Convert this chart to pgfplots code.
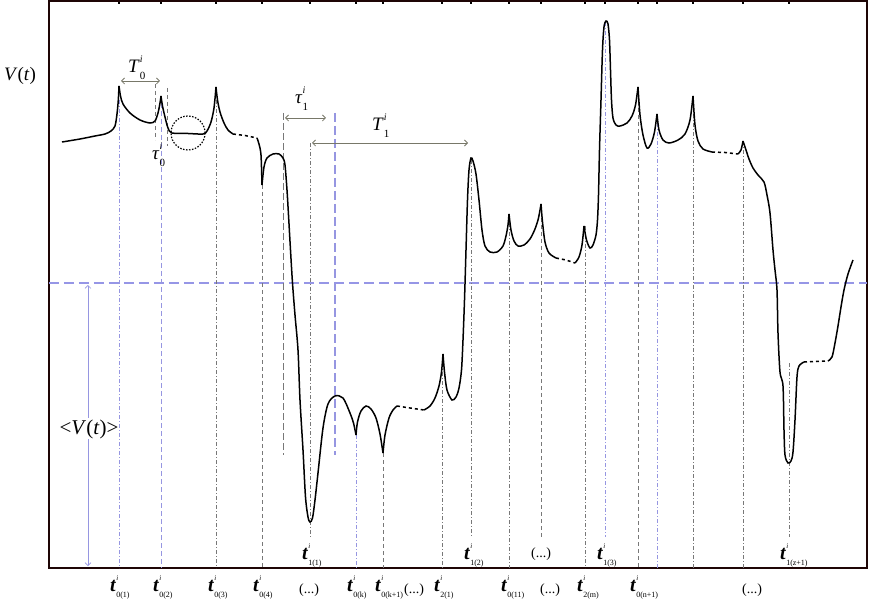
\documentclass[border=0pt]{standalone}
\usepackage{pgfplots}
\pgfplotsset{compat=1.18}
\usepackage{fontspec}
\setmainfont{Liberation Serif}
\usetikzlibrary{arrows.meta}
\definecolor{frame}{RGB}{30,5,5}
\definecolor{arrc}{RGB}{120,120,105}
\definecolor{vgray}{RGB}{120,120,120}
\definecolor{vblue}{RGB}{150,150,225}
\definecolor{hblue}{RGB}{150,150,230}
\tikzset{
  crv/.style={black, line width=1.5pt, smooth, tension=0.5, mark=none},
  dsh/.style={black, line width=1.5pt, dash pattern=on 3pt off 3pt, mark=none},
  vg/.style={vgray, line width=0.6pt, dash pattern=on 4pt off 2pt on 1pt off 2pt},
  vgd/.style={vgray, line width=0.6pt, dash pattern=on 4pt off 3pt},
  vb/.style={vblue, line width=0.7pt, dash pattern=on 4pt off 2pt on 1pt off 2pt},
  vbd/.style={vblue, line width=0.9pt, dash pattern=on 5pt off 3pt},
}
\newcommand{\tl}[2]{\textbf{\textit{t}}$^{\raisebox{0.3ex}{\fontsize{7}{7}\selectfont\textit{#1}}}_{\raisebox{-0.2ex}{\fontsize{8}{8}\selectfont #2}}$}
\newcommand{\sym}[3]{#1$^{\raisebox{0.5ex}{\fontsize{10}{10}\selectfont\textit{#2}}}_{\raisebox{-0.3ex}{\fontsize{11}{11}\selectfont #3}}$}
\begin{document}
\begin{tikzpicture}
\begin{axis}[
  scale only axis, width=818pt, height=567pt,
  xmin=49, xmax=867, ymin=1, ymax=568, y dir=reverse,
  enlargelimits=false, clip=false,
  axis line style={line width=2.2pt, color=frame},
  xtick={119,161,216,262,310,356,383,442,471,509,541,585,605,638,657,693,743,789},
  xticklabels={}, ytick=\empty,
  xtick pos=right,
  tick align=center, major tick length=7pt,
  tick style={line width=1.4pt, black},
]
% horizontal mean line
\draw[hblue, line width=1.1pt, dash pattern=on 10pt off 5pt] (axis cs:49,283) -- (axis cs:867,283);
% vertical guide lines
\draw[vb]  (axis cs:119,100) -- (axis cs:119,568);
\draw[vgd] (axis cs:155,84) -- (axis cs:155,140);
\draw[vbd] (axis cs:161,103) -- (axis cs:161,568);
\draw[vgd] (axis cs:167,88) -- (axis cs:167,146);
\draw[vg]  (axis cs:216,100) -- (axis cs:216,568);
\draw[vgd] (axis cs:262,185) -- (axis cs:262,568);
\draw[vgray, line width=0.7pt, dash pattern=on 7pt off 3pt] (axis cs:283,113) -- (axis cs:283,455);
\draw[vblue, line width=1.3pt, dash pattern=on 9pt off 4pt] (axis cs:335,113) -- (axis cs:335,455);
\draw[vg]  (axis cs:310,143) -- (axis cs:310,537);
\draw[vb]  (axis cs:356,435) -- (axis cs:356,568);
\draw[vgd] (axis cs:383,453) -- (axis cs:383,568);
\draw[vg]  (axis cs:442,354) -- (axis cs:442,568);
\draw[vg]  (axis cs:471,160) -- (axis cs:471,537);
\draw[vg]  (axis cs:509,214) -- (axis cs:509,568);
\draw[vgd] (axis cs:541,204) -- (axis cs:541,537);
\draw[vg]  (axis cs:585,226) -- (axis cs:585,568);
\draw[vb]  (axis cs:605,22) -- (axis cs:605,537);
\draw[vgd] (axis cs:638,87) -- (axis cs:638,568);
\draw[vb]  (axis cs:657,114) -- (axis cs:657,568);
\draw[vg]  (axis cs:693,96) -- (axis cs:693,568);
\draw[vg]  (axis cs:743,141) -- (axis cs:743,568);
\draw[vg]  (axis cs:789,363) -- (axis cs:789,537);
% <V(t)> arrow
\draw[vblue, line width=0.6pt, <->, >={Straight Barb[length=3pt,width=6pt]}] (axis cs:88,285) -- (axis cs:88,566);
% curve
\addplot[crv] coordinates {(62,142)(80,139)(95,136)(105,134)(111,131)(115,126)(117,114)(118.3,100)(119,86)};
\addplot[crv] coordinates {(119,86)(120.5,96)(123,104)(130,113)(140,120)(150,123)(155,121)(158,113)(160,103)(161,96)};
\addplot[crv] coordinates {(161,96)(162.5,106)(165,117)(168,128)(172,133)(188,133.5)(203,134)(207,131)(211,122)(214,108)(216,87)};
\addplot[crv] coordinates {(216,87)(217.5,100)(220,112)(224,123)(228,130)(233,134)};
\addplot[dsh] coordinates {(233,134)(245,135.5)(257,138)};
\addplot[crv] coordinates {(257,138)(259,144)(261,155)(262,185)};
\addplot[crv] coordinates {(262,185)(264,167)(267,158)(273,154)(279,154)(283,158)(285,165)(287,190)(288.5,215)(290.5,250)(292.5,283)(295,315)(298,350)(300,400)(303,450)(305.5,497)(308,517)(310,522)(312.5,518)(315,500)(318,473)(323,428)(328,404)(335,396)(343,398)(350,413)(353.5,423)(356,435)};
\addplot[crv] coordinates {(356,435)(357.5,422)(361,411)(366,406)(371,409)(376,418)(380,434)(383,453)};
\addplot[crv] coordinates {(383,453)(385,435)(389,418)(393,410)(397,406)};
\addplot[dsh] coordinates {(397,406)(410,408)(424,410)};
\addplot[crv] coordinates {(424,410)(430,406)(435,398)(439,386)(441.5,372)(443,354)};
\addplot[crv] coordinates {(443,354)(444.5,372)(447,390)(452,400)(456,397)(459,388)(461.5,370)(463,340)(464.5,300)(466,250)(467.5,200)(469,170)(471,158)(473,161)(476,174)(479,200)(482,230)(485,246)(490,252)(497,252)(503,246)(506,236)(508,225)(509,214)};
\addplot[crv] coordinates {(509,214)(511,230)(514,241)(518,246)(524,245)(530,239)(535,229)(538.5,218)(541,204)};
\addplot[crv] coordinates {(541,204)(542.5,222)(545,242)(549,253)(556,258)};
\addplot[dsh] coordinates {(556,258)(566,260)(575,263)};
\addplot[crv] coordinates {(575,263)(579,257)(582,245)(584,226)};
\addplot[crv] coordinates {(584,226)(586.5,240)(590,248)(593,245)(596,235)(597.5,220)(598.5,195)(599.5,150)(601,100)(602.5,50)(604,27)(606,21)(608,24)(609.5,40)(610.5,70)(611.5,100)(613,118)(616,125)(620,126)(627,123)(632,116)(635.5,105)(638,87)};
\addplot[crv] coordinates {(638,87)(640,115)(643,135)(647,148)(651,144)(654.5,132)(657,114)};
\addplot[crv] coordinates {(657,114)(659,130)(663,140)(669,143)(678,140)(685,134)(690,120)(693,96)};
\addplot[crv] coordinates {(693,96)(695,125)(698,141)(703,149)(712,152)};
\addplot[dsh] coordinates {(712,152)(725,152.5)(738,154)};
\addplot[crv] coordinates {(738,154)(741,150)(743,141)};
\addplot[crv] coordinates {(743,141)(746,150)(749,159)(753,168)(758,175)(764,182)(767,195)(770,213)(773,250)(775,270)(777,290)(778,333)(780,372)(783,386)(784,430)(785,455)(788,463)(791,461)(793,452)(795,420)(797,377)(799,366)(804,362)};
\addplot[dsh] coordinates {(804,362)(816,361.5)(828,361)};
\addplot[crv] coordinates {(828,361)(832,357)(835,343)(838,326)(841,307)(844,290)(848,274)(853,260)};
% highlight circle
\draw[black, line width=1.2pt, dash pattern=on 1.5pt off 1.5pt] (axis cs:188,133) circle[radius=17pt];
% interval arrows
\draw[arrc, line width=0.8pt, <->, >={Straight Barb[length=3pt,width=6pt]}] (axis cs:121,81) -- (axis cs:160,81);
\draw[arrc, line width=0.8pt, <->, >={Straight Barb[length=3pt,width=6pt]}] (axis cs:285,118) -- (axis cs:326,118);
\draw[arrc, line width=0.8pt, <->, >={Straight Barb[length=3pt,width=6pt]}] (axis cs:312,143) -- (axis cs:468,143);
% labels
\node[anchor=base] at (axis cs:20,81) {\fontsize{19}{19}\selectfont\textit{V}(\textit{t})};
\node[anchor=base west, inner sep=0pt] at (axis cs:128,73) {\fontsize{19}{19}\selectfont\sym{\textit{T}}{i}{0}};
\node[anchor=base west, inner sep=0pt] at (axis cs:152,160) {\fontsize{19}{19}\selectfont\sym{\textit{τ}}{i}{0}};
\node[anchor=base west, inner sep=0pt] at (axis cs:295,104) {\fontsize{19}{19}\selectfont\sym{\textit{τ}}{i}{1}};
\node[anchor=base west, inner sep=0pt] at (axis cs:372,131) {\fontsize{19}{19}\selectfont\sym{\textit{T}}{i}{1}};
\node[anchor=base, fill=white, inner sep=1pt] at (axis cs:89,434) {\fontsize{21}{21}\selectfont <\textit{V}(\textit{t})>};
% labels below the axis
\begin{scope}[every node/.style={anchor=base west, inner sep=0pt, font=\fontsize{20}{20}\selectfont}]
\node at (axis cs:110,591) {\tl{i}{0(1)}};
\node at (axis cs:153,591) {\tl{i}{0(2)}};
\node at (axis cs:208,591) {\tl{i}{0(3)}};
\node at (axis cs:253,591) {\tl{i}{0(4)}};
\node at (axis cs:347,591) {\tl{i}{0(k)}};
\node at (axis cs:375,591) {\tl{i}{0(k+1)}};
\node at (axis cs:434,591) {\tl{i}{2(1)}};
\node at (axis cs:501,591) {\tl{i}{0(11)}};
\node at (axis cs:577,591) {\tl{i}{2(m)}};
\node at (axis cs:630,591) {\tl{i}{0(n+1)}};
\node at (axis cs:302,559) {\tl{i}{1(1)}};
\node at (axis cs:464,559) {\tl{i}{1(2)}};
\node at (axis cs:597,559) {\tl{i}{1(3)}};
\node at (axis cs:780,559) {\tl{i}{1(z+1)}};
\end{scope}
\begin{scope}[every node/.style={anchor=base, inner sep=0pt, font=\fontsize{14}{14}\selectfont}]
\node at (axis cs:309,593) {(...)};
\node at (axis cs:414,593) {(...)};
\node at (axis cs:550,593) {(...)};
\node at (axis cs:752,593) {(...)};
\node at (axis cs:541,557) {(...)};
\end{scope}
\coordinate (BL) at (axis cs:0,599);
\coordinate (TR) at (axis cs:871,0);
\end{axis}
\pgfresetboundingbox
\path (BL) rectangle (TR);
\end{tikzpicture}
\end{document}
